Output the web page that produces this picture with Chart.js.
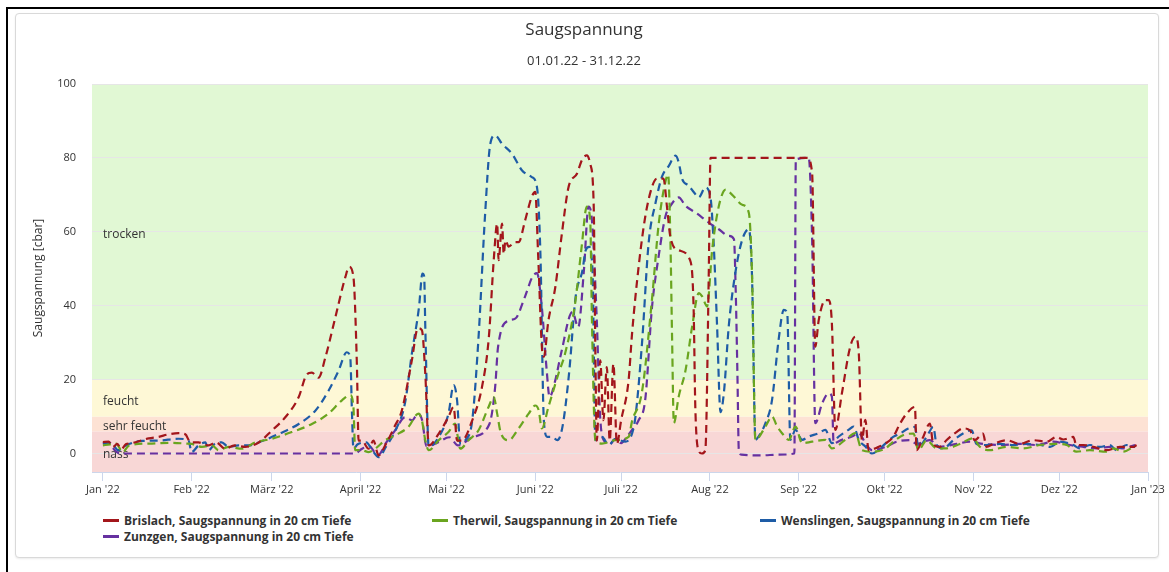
<!DOCTYPE html>
<html>
<head>
<meta charset="utf-8">
<script src="https://cdn.jsdelivr.net/npm/chart.js@4/dist/chart.umd.min.js"></script>
<style>
  body { margin: 0; background: #fff; font-family: 'Open Sans', sans-serif; }
  #frame { position: absolute; left: 6px; top: 7px; width: 1162px; height: 600px; border-left: 2px solid #000; border-top: 2px solid #000; border-right: 2px solid #000; }
  #card { position: absolute; left: 15px; top: 13px; width: 1142px; height: 543px; border: 1px solid #d9d9d9; border-radius: 4px; box-shadow: 0 1px 2px rgba(0,0,0,0.08); background: #fff; }
  #chart { position: absolute; left: 0; top: 0; }
  .leg { position: absolute; font-size: 12px; font-weight: bold; color: #333; white-space: nowrap; line-height: 16px; }
  .leg i { display: inline-block; width: 16px; height: 3px; margin-right: 5px; vertical-align: middle; position: relative; top: -1px; }
</style>
</head>
<body>
<div id="frame"></div>
<div id="card"></div>
<canvas id="chart" width="1169" height="510"></canvas>
<div id="legend"></div>
<script>
// Saugspannung [cbar], Tag im Jahr 2022 (0 = 1. Januar)
const seriesNames = ['Brislach, Saugspannung in 20 cm Tiefe', 'Therwil, Saugspannung in 20 cm Tiefe', 'Wenslingen, Saugspannung in 20 cm Tiefe', 'Zunzgen, Saugspannung in 20 cm Tiefe'];
const seriesColors = ['#a3161b', '#6aa51f', '#1e5ca6', '#6631a0'];

const brislach = [[0,3.1],[2,3.2],[3.5,1.8],[5,2.6],[6.5,1.2],[8,2.5],[10,2.8],[16,4.1],[19.4,4.5],[23,5.2],[26.4,5.5],[28.8,5.2],[30.5,3.1],[33.4,3.0],[36.9,2.2],[39.5,3],[42.7,1.3],[46,2.2],[49.7,1.8],[54.4,3.0],[59,6.2],[63.7,9.8],[68.4,15.3],[71.2,21.4],[73,21.9],[75.3,20.5],[77.7,26],[81.2,36.9],[84.7,47.8],[86,50.5],[87.5,47.8],[88.7,24.3],[89.3,3.5],[90.5,3.5],[92.8,1.3],[94.5,3.5],[96.3,-0.5],[98.6,2.2],[102,7.5],[104.4,11.6],[107.9,25.2],[110,33.9],[111.4,33.4],[112.6,21.6],[113.8,2.2],[117.3,5.4],[120.7,9.9],[122.5,12.6],[123.7,3.5],[125.4,3.5],[129,9],[132.4,18],[134.8,31.5],[136.5,52.3],[137.7,62.2],[138.2,52.3],[139.4,62.2],[140,54],[140.6,57.7],[141.7,56],[144,57.2],[145.2,57.2],[147.5,63.2],[149.8,69.5],[151,70.8],[152,54],[153.3,29],[154,26.2],[155.6,36],[158,45],[160.3,59.5],[162.6,72],[165.6,75.8],[167.3,79.4],[169,80.7],[170.2,78.4],[171.4,67.6],[172,27],[172.5,3.5],[173.7,25.2],[174.8,9],[176,23.4],[177,3.5],[178.3,24.3],[179.5,2.6],[181,9],[183.6,19.8],[184.8,32.4],[187.1,50.5],[189.4,64],[191.8,72.2],[193.5,74.4],[195.8,74.4],[197,66.8],[198.2,58.6],[201.1,55],[205.1,52.3],[206.3,39.6],[206.9,12.6],[208,0.9],[209.2,0],[210.4,0.9],[211.6,48.7],[212.2,80],[246,80],[247.7,75.8],[248.8,28.9],[250,36.1],[252.3,41.5],[253.5,41.5],[254.6,35.2],[255.8,6.4],[258.1,16.3],[261,28.9],[262.8,31.6],[264,27],[265.1,3.7],[266.3,9.1],[267.4,0.9],[270.9,1.8],[273.3,2.7],[276,4.5],[278.4,8.1],[280.7,10.8],[283.6,12.6],[284.2,0.9],[286.5,4.5],[288.8,8.1],[290,2.6],[292.3,1.8],[294.6,3.6],[298.1,5.8],[300.4,6.8],[302.8,6.3],[304.5,3.6],[307.4,5.4],[308.6,1.8],[310.9,2.6],[315.6,3.6],[320.2,2.6],[324.9,3.6],[329.6,3.2],[333,4.5],[335.4,3.8],[338.9,4.5],[340,2.3],[342.4,2.3],[345.9,1.8],[350.5,0.9],[355.2,1.8],[359.9,1.8],[361,2.3]];

const therwil = [[0,2.2],[2.5,2.5],[4.6,2.7],[6.9,0.4],[9.2,2.2],[16.2,2.7],[23.3,2.9],[29.1,2.7],[31,2.6],[34.6,1.8],[38.1,2.2],[40.4,0.9],[43.9,1.8],[48.6,1.3],[53.2,3],[59,4],[66,5.8],[73,8],[78.8,10.8],[83.5,14.4],[86.4,15.8],[87.5,12.6],[88.1,0.9],[90.5,0.9],[92.8,0.4],[95.1,1.3],[98.6,3.6],[102,4.9],[106.7,7.2],[110.2,10.8],[111.4,9],[112.6,3.6],[113.8,0.9],[117.3,3.6],[120.7,5.8],[123,8.1],[124.8,1.3],[127.7,3.6],[131.2,6.3],[134.7,12.6],[136.5,15.3],[137.7,10.8],[138.9,5.8],[141.7,3.6],[145.2,6.8],[148.7,10.8],[151,13],[152.2,11.7],[153.3,6.8],[155.6,12.6],[159.1,21.6],[161.4,27],[164.9,40.5],[167.2,55.9],[169,66.8],[170.2,63.2],[170.8,36],[172,3.6],[174.3,2.7],[179,3.6],[183.6,4.5],[184.8,8.7],[188.3,16.8],[191.8,42],[194.1,62],[196.5,73.7],[197.4,75.5],[198.2,57.9],[198.8,30.8],[199.4,8.2],[201.1,15.4],[203.5,22.6],[205.8,34.4],[208.1,43.4],[209.3,42.5],[211,39.8],[212.8,55.2],[215.1,66.9],[217.5,71.4],[219.8,70],[223.3,67.3],[225.6,65.1],[226.7,48.8],[227.9,3.7],[231.4,7.3],[233.7,10],[235.5,7.3],[237.2,5.5],[239.5,3.7],[241.9,7.3],[244.2,2.8],[247.7,3.2],[252.3,3.7],[254.6,1.4],[259.3,3.7],[262.8,5.5],[265.1,0.9],[268.6,0.5],[273.3,1.4],[276,3.2],[279.6,5],[283.1,5.4],[284.8,0.9],[287.7,3.6],[291.2,1.4],[294.6,1.4],[299.3,2.6],[303.9,4.1],[306.3,1.8],[309.7,0.9],[315.6,1.8],[321.4,1.4],[327.3,2.3],[333,2.6],[336.6,2.3],[340,0.5],[344.7,0.9],[350.5,0.5],[352.9,1.4],[356.3,0.5],[359.9,1.8]];

const wenslingen = [[0,2.7],[2,3],[3.7,2.2],[5.4,0.9],[8.1,2.2],[13.6,3.4],[19.4,3.5],[26.4,4],[29.9,3.5],[31,0.4],[33.4,2.2],[35.8,3],[36.9,0.9],[39.2,2.7],[41.5,3],[43.9,1.8],[47.4,2.2],[50.9,2.2],[54.4,3],[61.4,5.3],[68.4,8],[74.2,11.6],[78.8,17],[82.3,22.4],[85.2,27.4],[86.4,26],[87,10.8],[87.5,1.3],[89,2.5],[92,3],[94,1],[96.3,-1],[99,2],[102,6],[105.5,13.6],[107.9,27],[110.4,39.6],[111.6,48.7],[112.2,48],[112.6,34.2],[113.8,1.8],[117.3,4.5],[120.7,10.8],[122.5,18.5],[123.7,14.4],[124.8,2.7],[126.6,3.6],[129,9],[131.2,31.5],[133.5,64.9],[135.3,83.8],[137,86.1],[139.4,83.8],[142.9,81.1],[146.4,76.6],[149.8,74.8],[151.6,72.1],[152.8,54.1],[154,9],[155.2,4.5],[156.9,4.5],[158.7,3.6],[160.5,7.2],[162.8,21.6],[165.1,42.4],[167.5,49.6],[168.6,55],[169.8,55.9],[171,49.6],[172,3.6],[174.3,4.5],[176.7,2.3],[179,4],[182.5,3.2],[184.8,5.4],[186,10],[188.3,30],[190.6,57],[193,67.8],[195.3,75],[197.6,77.8],[200,80.6],[201.1,78.8],[202.3,74.3],[204.6,72.5],[206.4,70.7],[208.1,69.3],[210.4,72],[212.2,69.3],[213.3,57],[214.5,34.6],[215.7,11.2],[216.9,16.6],[218.6,34.6],[220.9,49],[223.3,57.9],[225.6,60.7],[226.7,48.1],[227.9,3.7],[229,4.6],[231.4,8.2],[233.7,14.5],[236,30.8],[237.8,38.9],[239,38],[240.1,3.7],[241.9,6.4],[244.2,3.7],[246.5,4.6],[250,5.5],[252.3,6.4],[254.6,2.8],[257,4.6],[260.4,6.4],[262.2,7.3],[264,3.7],[266.3,1.9],[268.6,0],[272.1,1.9],[276,4.5],[278.4,5.4],[281.3,6.8],[283.6,7.2],[284.8,1.8],[287.7,4.5],[290,7.2],[291.2,2.3],[293.5,1.4],[297,3.6],[300.4,5.4],[303.4,6.3],[305.1,2.6],[308.6,2.3],[313.3,2.6],[317.9,2.3],[322.6,2.6],[327.3,2.3],[330.8,1.8],[334.2,3.2],[338.9,2.3],[341.2,1.4],[344.7,2.3],[348.2,1.8],[351.7,2.3],[354,0.9],[357.5,2.3],[360.5,1.8]];

const zunzgen = [[0,2.8],[2.5,2.8],[4,1],[6,0],[88,0],[90.5,1.3],[93,2],[96,-0.5],[99,3],[102,6.2],[105.5,9.8],[108,9],[110,10.8],[111.5,9],[113,2],[117,3],[121,4.4],[124,2.2],[129,4.4],[135,8],[137,18],[138,28.8],[141.7,36],[144,36.5],[147.4,42.4],[150,47.8],[151.6,48.8],[153.3,39.6],[155,22.5],[156,15.3],[158,19.8],[160,27],[164,38.3],[166,34.2],[168,49.6],[169.6,66.8],[170.8,63],[172.5,36],[173.6,10.8],[175,3.5],[177,2.5],[179,4],[181,2.8],[183,4.5],[184.8,6.4],[187.1,9],[189.4,14.5],[191.8,39.8],[194.1,53.4],[196.5,64.3],[198.2,67],[201.1,69.3],[203.5,67],[207,65.2],[211.6,62.5],[215.1,60.7],[218.6,58.9],[220.4,58],[221,44.5],[221.6,21.9],[222.1,0.9],[223,-0.3],[230,-0.5],[236,-0.3],[241.5,0],[242,79.6],[246.5,80],[247.7,57.9],[248.8,8.2],[251.2,13.6],[253.5,16.3],[254.6,15.4],[255.2,2.8],[258.1,3.7],[261.6,4.6],[264,5.5],[266.3,2.8],[268.6,0.9],[273.3,1.8],[277.2,3.2],[281.9,3.6],[284.2,2.6],[288.8,3.6],[292.3,1.8],[298.1,2.6],[302.8,3.2],[307.4,2.6],[313.3,2.3],[320.2,2.6],[326.1,2.3],[331.9,3.2],[337.7,2.3],[342.4,1.8],[347.1,1.4],[351.7,1.8],[356.3,1.4],[360.5,2.3]];

const monthTicks = [0, 31, 59, 90, 120, 151, 181, 212, 243, 273, 304, 334, 365];
const monthLabels = ["Jan '22", "Feb '22", "März '22", "April '22", "Mai '22", "Juni '22", "Juli '22", "Aug '22", "Sep '22", "Okt '22", "Nov '22", "Dez '22", "Jan '23"];
const yTicks = [0, 20, 40, 60, 80, 100];

// Bereiche: von, bis, Name
const bandFrom = [-5, 6, 10, 20];
const bandTo = [6, 10, 20, 100];
const bandNames = ['nass', 'sehr feucht', 'feucht', 'trocken'];
const bandColors = ['#f8d7d6', '#fde2d4', '#fef8d6', '#e1f8d4'];

const allSeries = [brislach, therwil, wenslingen, zunzgen];

const bandsPlugin = {
    id: 'bands',
    beforeDraw(chart) {
        const c = chart.ctx, a = chart.chartArea, y = chart.scales.y;
        c.save();
        bandFrom.forEach(function (f, i) {
            const top = Math.max(y.getPixelForValue(bandTo[i]), a.top);
            const bot = Math.min(y.getPixelForValue(f), a.bottom);
            c.fillStyle = bandColors[i];
            c.fillRect(a.left, top, a.right - a.left, bot - top);
        });
        c.restore();
    },
    beforeDatasetsDraw(chart) {
        const c = chart.ctx, a = chart.chartArea, y = chart.scales.y;
        c.save();
        c.font = '12px "Open Sans"';
        c.fillStyle = '#333';
        c.textBaseline = 'middle';
        bandFrom.forEach(function (f, i) {
            const mid = (y.getPixelForValue(f) + y.getPixelForValue(bandTo[i])) / 2;
            c.fillText(bandNames[i], a.left + 11, mid + 3);
        });
        c.restore();
    }
};

let myChart = document.getElementById('chart').getContext('2d');

let lineChart = new Chart(myChart, {
    type: 'line',
    data: {
        datasets: allSeries.map(function (s, i) {
            return {
                label: seriesNames[i],
                data: s.map(function (p) { return { x: p[0], y: p[1] }; }),
                borderColor: seriesColors[i],
                backgroundColor: seriesColors[i],
                borderWidth: 2.2,
                borderDash: [8, 5],
                pointRadius: 0,
                cubicInterpolationMode: 'monotone',
                fill: false
            };
        })
    },
    options: {
        responsive: false,
        animation: false,
        layout: { padding: { left: 20, right: 21, top: 8, bottom: 8 } },
        plugins: {
            legend: { display: false },
            tooltip: { enabled: false },
            title: {
                display: true,
                text: 'Saugspannung',
                color: '#333',
                font: { family: 'Open Sans', size: 17, weight: 'normal' },
                padding: { top: 12, bottom: 6 }
            },
            subtitle: {
                display: true,
                text: '01.01.22 - 31.12.22',
                color: '#333',
                font: { family: 'Open Sans', size: 13 },
                padding: { top: 7, bottom: 15 }
            }
        },
        scales: {
            x: {
                type: 'linear',
                min: -3.8,
                max: 365,
                afterBuildTicks: function (axis) {
                    axis.ticks = monthTicks.map(function (v) { return { value: v }; });
                },
                afterFit: function (axis) { axis.height = 30; },
                ticks: {
                    autoSkip: false,
                    maxRotation: 0,
                    padding: 2,
                    color: '#333',
                    font: { family: 'Open Sans', size: 11 },
                    callback: function (v) { return monthLabels[monthTicks.indexOf(v)]; }
                },
                grid: { drawOnChartArea: false, drawTicks: true, tickLength: 9, color: '#ccd6eb' },
                border: { display: true, color: '#ccd6eb' }
            },
            y: {
                min: -5,
                max: 100,
                afterBuildTicks: function (axis) {
                    axis.ticks = yTicks.map(function (v) { return { value: v }; });
                },
                afterFit: function (axis) { axis.width = 72; },
                ticks: {
                    padding: 16,
                    color: '#333',
                    font: { family: 'Open Sans', size: 11 }
                },
                grid: { color: '#e6e6e6', drawTicks: false },
                border: { display: false },
                title: {
                    display: true,
                    text: 'Saugspannung [cbar]',
                    color: '#333',
                    font: { family: 'Open Sans', size: 12 },
                    padding: { top: 11, bottom: 0 }
                }
            }
        }
    },
    plugins: [bandsPlugin]
});

// Legende
const legendLeft = [103, 432, 760, 103];
const legendTop = [513, 513, 513, 529];
let html = '';
seriesNames.forEach(function (n, i) {
    html += '<div class="leg" style="left:' + legendLeft[i] + 'px;top:' + legendTop[i] + 'px">' +
        '<i style="background:' + seriesColors[i] + '"></i>' + n + '</div>';
});
document.getElementById('legend').innerHTML = html;
</script>
</body>
</html>
